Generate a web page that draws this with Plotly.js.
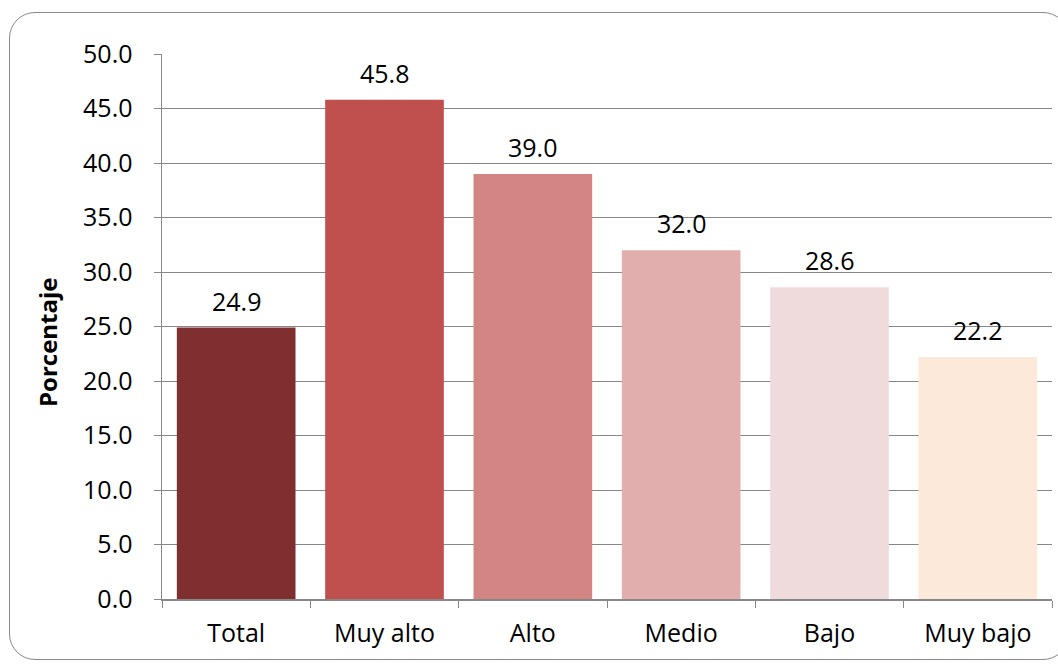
<!DOCTYPE html>
<html><head><meta charset="utf-8">
<script src="https://cdn.plot.ly/plotly-3.0.1.min.js"></script>
<style>
html,body{margin:0;padding:0;background:#fff;}
#wrap{position:relative;width:1058px;height:671px;}
#frame{position:absolute;left:9px;top:12px;width:1060px;height:648px;border:1.5px solid #898989;border-radius:26px;box-sizing:border-box;pointer-events:none;}
#chart{position:absolute;left:0;top:0;width:1058px;height:671px;}
</style></head>
<body><div id="wrap"><div id="frame"></div><div id="chart"></div></div>
<script>
const categories = ["Total", "Muy alto", "Alto", "Medio", "Bajo", "Muy bajo"];
const values = [24.9, 45.8, 39.0, 32.0, 28.6, 22.2];
const barColors = ["#7F2F30", "#C0504D", "#D38584", "#E2ADAD", "#EFDBDC", "#FDE9DA"];
const yTickVals = [0, 5, 10, 15, 20, 25, 30, 35, 40, 45, 50];
const yTitle = "Porcentaje";

const font = "'Open Sans', 'Noto Sans', sans-serif";
const FS = 25;

const labelAnnotations = categories.map((c, i) => ({
  x: c, y: values[i], xref: 'x', yref: 'y',
  text: values[i].toFixed(1),
  showarrow: false, yanchor: 'bottom', xanchor: 'center',
  yshift: 8,
  font: {family: font, size: FS, color: '#000'}
}));

Plotly.newPlot('chart', [{
  type: 'bar',
  x: categories,
  y: values,
  marker: {color: barColors, line: {width: 0}},
  hoverinfo: 'none'
}], {
  width: 1058, height: 671,
  margin: {l: 162, r: 6, t: 54, b: 72},
  paper_bgcolor: 'rgba(0,0,0,0)',
  plot_bgcolor: 'rgba(0,0,0,0)',
  bargap: 0.2,
  showlegend: false,
  font: {family: font, size: FS, color: '#000'},
  xaxis: {
    type: 'category',
    tickson: 'boundaries',
    ticks: 'outside', ticklen: 7, tickcolor: '#888', tickwidth: 1,
    showline: true, linecolor: '#888', linewidth: 1.5,
    showgrid: false,
    ticklabelstandoff: 11,
    tickfont: {family: font, size: FS, color: '#000'}
  },
  yaxis: {
    range: [0, 50],
    tickvals: yTickVals,
    ticktext: yTickVals.map(v => v.toFixed(1)),
    ticks: 'outside', ticklen: 7, tickcolor: '#888', tickwidth: 1,
    showline: true, linecolor: '#888', linewidth: 1.5,
    showgrid: true, gridcolor: '#888', gridwidth: 1,
    zeroline: false,
    ticklabelstandoff: 16,
    tickfont: {family: font, size: FS, color: '#000'}
  },
  annotations: labelAnnotations.concat([{
    xref: 'paper', yref: 'paper',
    x: (47 - 162) / 890, y: (599 - 342) / 545,
    xanchor: 'center', yanchor: 'middle',
    textangle: -90, showarrow: false,
    text: '<b>' + yTitle + '</b>',
    font: {family: font, size: 24, color: '#000'}
  }])
}, {displayModeBar: false, staticPlot: true});
</script></body></html>
